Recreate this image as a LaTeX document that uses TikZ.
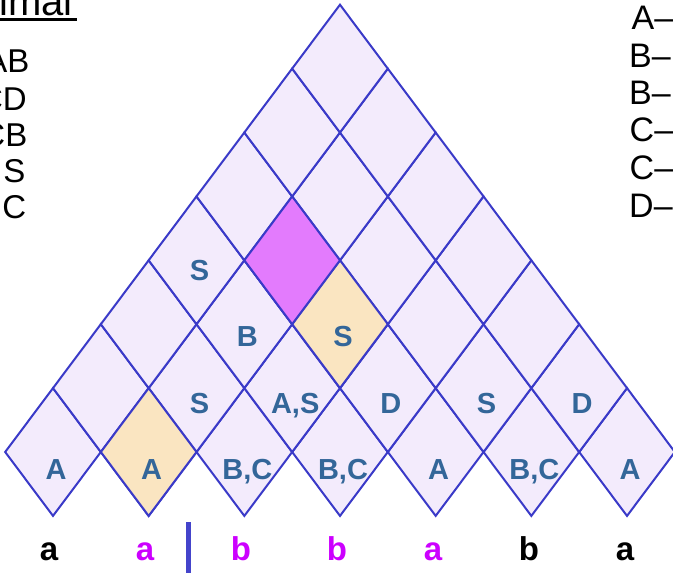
\documentclass[tikz,border=0pt]{standalone}
\usepackage{fontspec}
\setmainfont{Liberation Sans}
\usepackage{xcolor}
\usetikzlibrary{shapes.geometric,positioning}

\definecolor{cellfill}{RGB}{243,235,252}
\definecolor{cellline}{RGB}{58,58,200}
\definecolor{hiorange}{RGB}{250,229,193}
\definecolor{himagenta}{RGB}{227,123,253}
\definecolor{entryblue}{RGB}{51,102,153}
\definecolor{wordmagenta}{RGB}{204,0,255}

\begin{document}
\begin{tikzpicture}[x=1pt, y=-1pt,
        cell/.style={shape=diamond, draw=cellline, fill=cellfill, line width=2pt,
            minimum width=95.67pt, minimum height=127.8pt, inner sep=0pt, outer sep=0pt},
        entry/.style={text=entryblue, font=\fontsize{29}{29}\selectfont\bfseries, anchor=base, inner sep=0pt},
        word/.style={font=\fontsize{33}{33}\selectfont\bfseries, anchor=base, inner sep=0pt},
        rulel/.style={font=\fontsize{33}{33}\selectfont, anchor=base east, inner sep=0pt},
        ruler/.style={font=\fontsize{34}{34}\selectfont, anchor=base west, inner sep=0pt}]
        \useasboundingbox (0,0) rectangle (673,573);
        \clip (0,0) rectangle (673,573);

        % Triangle of cells
        \foreach \r in {1,...,7}{
            \pgfmathtruncatemacro\ncells{8-\r}
            \foreach \c in {1,...,\ncells}
                \node [cell] (c\r-\c) at ({53+(\c-1)*95.67+(\r-1)*47.83}, {452-(\r-1)*63.9}) {};
        }

        % Highlighted cells
        \node [cell, fill=hiorange] (h1-2) at (c1-2) {};
        \node [cell, fill=hiorange] (h3-3) at (c3-3) {};
        \node [cell, fill=himagenta] (h4-2) at (c4-2) {};

        % Cell entries
        \foreach \r/\c/\t in {1/1/A, 1/2/A, 1/3/{B,C}, 1/4/{B,C}, 1/5/A, 1/6/{B,C}, 1/7/A,
                2/2/S, 2/3/{A,S}, 2/4/D, 2/5/S, 2/6/D,
                3/2/B, 3/3/S,
                4/1/S}
            \node [entry] (e\r-\c) at ([xshift=3pt, yshift={-(30.5-2.6*\r)*1pt}]c\r-\c.center) {\t};

        % Input word
        \foreach \i/\w/\col in {1/a/black, 2/a/wordmagenta, 3/b/wordmagenta, 4/b/wordmagenta,
                5/a/wordmagenta, 6/b/black, 7/a/black}
            \node [word, text=\col] (w\i) at ({49+(\i-1)*96}, 560) {\w};

        % Split marker
        \coordinate (split-top) at (188.5, 522);
        \coordinate (split-bot) at (188.5, 580);
        \draw [line width=4.5pt, color=cellline!95!white] (split-top) -- (split-bot);

        % Grammar, left column
        \node [font=\fontsize{40}{40}\selectfont, anchor=base west, inner sep=0pt] (title) at (-1, 15) {imal};
        \draw [line width=2.5pt] ([xshift=-6pt, yshift=-4.5pt]title.base west) -- ([xshift=4pt, yshift=-4.5pt]title.base east);
        \node [rulel] (l1) at (29.5, 72.5) {AB};
        \node [rulel] (l2) at (27, 110) {CD};
        \node [rulel] (l3) at (27.5, 146.5) {CB};
        \node [rulel] (l4) at (25.5, 182) {S};
        \node [rulel] (l5) at (26.5, 218.5) {C};

        % Grammar, right column
        \node [ruler] (r1) at (631.5, 29.5) {A–};
        \node [ruler] (r2) at (629, 67) {B–};
        \node [ruler] (r3) at (629, 104) {B–};
        \node [ruler] (r4) at (629.5, 141.5) {C–};
        \node [ruler] (r5) at (629.5, 179) {C–};
        \node [ruler] (r6) at (629, 217) {D–};
    \end{tikzpicture}
\end{document}
